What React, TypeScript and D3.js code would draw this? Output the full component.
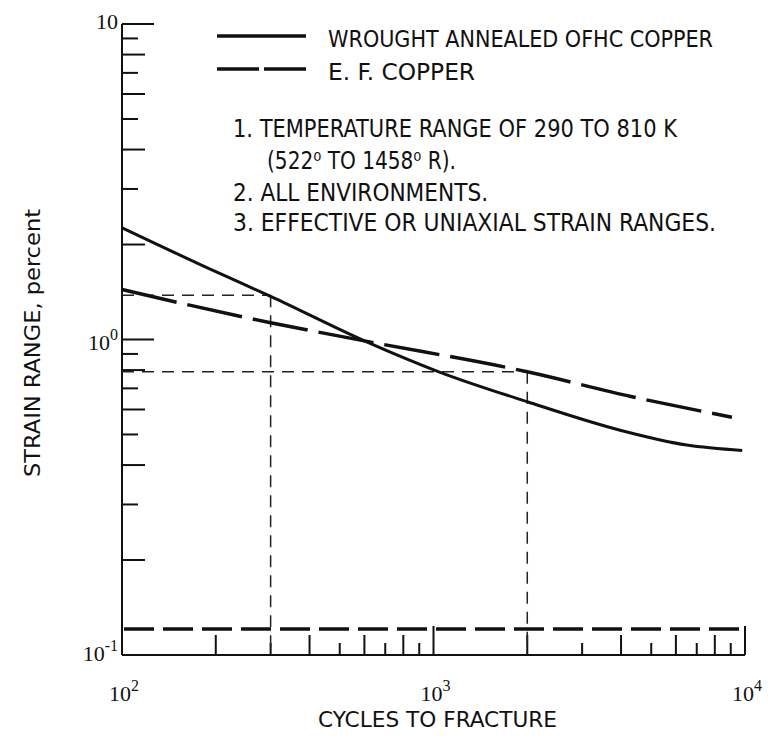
import React from "react";
import * as d3 from "d3";

// ---- data ----
const ofhcCycles = [100, 200, 300, 600, 1040, 2000, 4000, 6500, 9800];
const ofhcStrain = [2.26, 1.64, 1.37, 0.99, 0.79, 0.635, 0.515, 0.463, 0.445];
const efCycles = [100, 300, 600, 2000, 4300, 9080];
const efStrain = [1.44, 1.13, 0.99, 0.79, 0.66, 0.567];
const guideCycles = [300, 2000];
const guideStrain = [1.38, 0.79];
const lowerLimitStrain = 0.121;
const xMinorTicks = [200, 300, 400, 500, 600, 700, 800, 900, 2000, 3000, 4000, 5000, 6000, 7000, 8000, 9000];
const xMajorTicks = [100, 1000, 10000];
const xTickExponents = ["2", "3", "4"];
const yMinorTicks = [0.2, 0.3, 0.4, 0.5, 0.6, 0.7, 0.8, 0.9, 2, 3, 4, 5, 6, 7, 8, 9];
const yMajorTicks = [0.1, 1, 10];
const yTickExponents = ["-1", "0", ""];
const legendLabels = ["WROUGHT ANNEALED OFHC COPPER", "E. F. COPPER"];
const notes = [
  "1. TEMPERATURE RANGE OF 290 TO 810 K",
  "(522\u2070 TO 1458\u2070 R).",
  "2. ALL ENVIRONMENTS.",
  "3. EFFECTIVE OR UNIAXIAL STRAIN RANGES.",
];
const xTitle = "CYCLES TO FRACTURE";
const yTitle = "STRAIN RANGE, percent";

const SANS = "'Liberation Sans Narrow', 'DejaVu Sans Condensed', 'Roboto Condensed', sans-serif";
const SERIF = "'Liberation Serif', 'DejaVu Serif', serif";
const INK = "#111";

export default function App() {
  const x = d3.scaleLog().domain([100, 10000]).range([122, 745]);
  const y = d3.scaleLog().domain([0.1, 10]).range([655, 24]);

  const line = d3
    .line<[number, number]>()
    .x((d) => x(d[0]))
    .y((d) => y(d[1]))
    .curve(d3.curveMonotoneX);

  const ofhc = ofhcCycles.map((n, i) => [n, ofhcStrain[i]] as [number, number]);
  const ef = efCycles.map((n, i) => [n, efStrain[i]] as [number, number]);

  const x0 = x(100);
  const yb = y(0.1);

  const mant = (v: number) => Math.round(v / Math.pow(10, Math.floor(Math.log10(v) + 1e-9)));

  const noteLayout = [
    { x: 233, y: 137, w: 444 },
    { x: 267, y: 169, w: 189 },
    { x: 233, y: 201, w: 255 },
    { x: 233, y: 231, w: 483 },
  ];

  return (
    <svg
      width={773}
      height={736}
      style={{ position: "absolute", left: 0, top: 0, background: "#fff" }}
    >
      {/* axes */}
      <line x1={x0} y1={y(10)} x2={x0} y2={yb} stroke={INK} strokeWidth={2} />
      <line x1={x0} y1={yb} x2={x(10000)} y2={yb} stroke={INK} strokeWidth={2} />

      {/* y ticks */}
      {yMajorTicks.map((v) => (
        <line key={"ym" + v} x1={x0} x2={x0 + 32} y1={y(v)} y2={y(v)} stroke={INK} strokeWidth={2} />
      ))}
      {yMinorTicks.map((v) => (
        <line
          key={"yn" + v}
          x1={x0}
          x2={x0 + (mant(v) % 2 === 0 ? 23 : 16)}
          y1={y(v)}
          y2={y(v)}
          stroke={INK}
          strokeWidth={2}
        />
      ))}

      {/* x ticks */}
      {xMajorTicks.map((v) => (
        <line key={"xm" + v} x1={x(v)} x2={x(v)} y1={yb} y2={yb - 29} stroke={INK} strokeWidth={2} />
      ))}
      {xMinorTicks.map((v) => (
        <line
          key={"xn" + v}
          x1={x(v)}
          x2={x(v)}
          y1={yb}
          y2={yb - (mant(v) % 2 === 0 ? 20 : 12)}
          stroke={INK}
          strokeWidth={2}
        />
      ))}

      {/* y tick labels */}
      {yMajorTicks.map((v, i) => {
        const e = yTickExponents[i];
        const yy = y(v) + (e === "" ? 5 : e === "0" ? 10 : 6);
        return (
          <text key={"yl" + v} x={x0 - 4} y={yy} textAnchor="end" fontFamily={SERIF} fontSize={22} fill={INK}>
            10
            {e !== "" && (
              <tspan dy={-10} fontSize={16}>
                {e}
              </tspan>
            )}
          </text>
        );
      })}

      {/* x tick labels */}
      {xMajorTicks.map((v, i) => (
        <text key={"xl" + v} x={x(v) + 2} y={701} textAnchor="middle" fontFamily={SERIF} fontSize={22} fill={INK}>
          10
          <tspan dy={-10} fontSize={16}>
            {xTickExponents[i]}
          </tspan>
        </text>
      ))}

      {/* guide lines */}
      {guideCycles.map((n, i) => (
        <g key={"g" + n} stroke="#222" strokeWidth={1.5} strokeDasharray="12 8" fill="none">
          <line x1={x0} x2={x(n)} y1={y(guideStrain[i])} y2={y(guideStrain[i])} />
          <line x1={x(n)} x2={x(n)} y1={y(guideStrain[i])} y2={yb} />
        </g>
      ))}

      {/* lower limit heavy dashed line */}
      <line
        x1={x0 + 2}
        x2={x(10000)}
        y1={y(lowerLimitStrain)}
        y2={y(lowerLimitStrain)}
        stroke={INK}
        strokeWidth={3.5}
        strokeDasharray="30 9"
      />

      {/* curves */}
      <path d={line(ofhc) || ""} fill="none" stroke={INK} strokeWidth={3} />
      <path d={line(ef) || ""} fill="none" stroke={INK} strokeWidth={3.5} strokeDasharray="56 11" />

      {/* legend */}
      <line x1={217} x2={306} y1={36} y2={36} stroke={INK} strokeWidth={3.5} />
      <line x1={217} x2={306} y1={69} y2={69} stroke={INK} strokeWidth={3.5} strokeDasharray="42 5" />
      <text x={328} y={47} fontFamily={SANS} fontSize={23} fill={INK} textLength={385} lengthAdjust="spacingAndGlyphs">
        {legendLabels[0]}
      </text>
      <text x={328} y={80} fontFamily={SANS} fontSize={23} fill={INK} textLength={147} lengthAdjust="spacingAndGlyphs">
        {legendLabels[1]}
      </text>

      {/* notes */}
      {notes.map((t, i) => {
        const L = noteLayout[i];
        return (
          <text
            key={"note" + i}
            x={L.x}
            y={L.y}
            fontFamily={SANS}
            fontSize={24}
            fill={INK}
            textLength={L.w}
            lengthAdjust="spacingAndGlyphs"
          >
            {t}
          </text>
        );
      })}

      {/* axis titles */}
      <text x={318} y={727} fontFamily={SANS} fontSize={21} fill={INK} textLength={239} lengthAdjust="spacingAndGlyphs">
        {xTitle}
      </text>
      <text
        transform="translate(40,343) rotate(-90)"
        textAnchor="middle"
        fontFamily={SANS}
        fontSize={22}
        fill={INK}
        textLength={268}
        lengthAdjust="spacingAndGlyphs"
      >
        {yTitle}
      </text>
    </svg>
  );
}
